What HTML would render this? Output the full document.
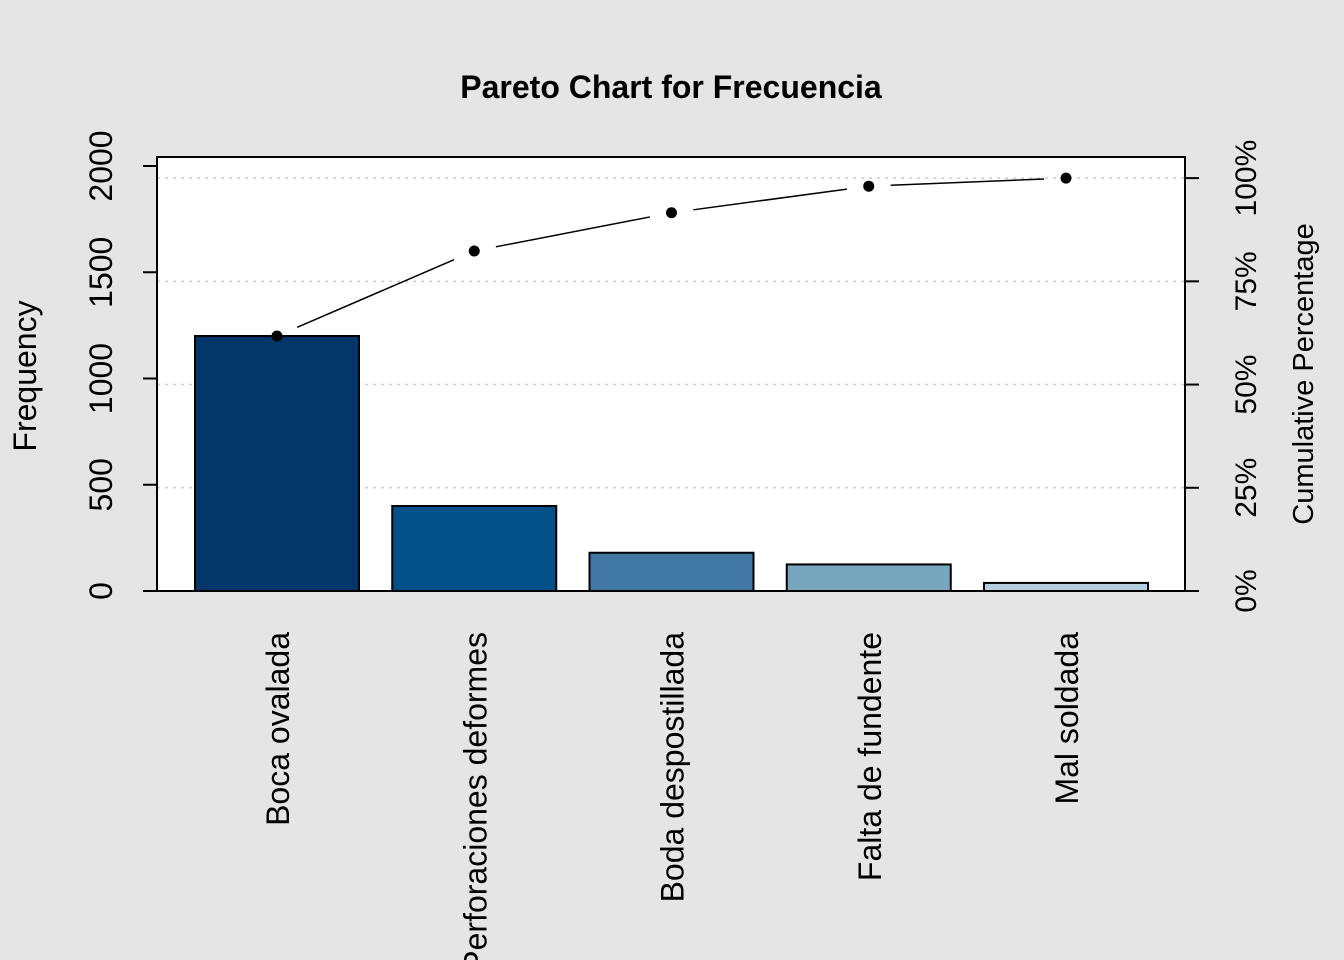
<!DOCTYPE html>
<html><head><meta charset="utf-8"><style>
html,body{margin:0;padding:0;background:#e5e5e5;}
svg{display:block;font-family:"Liberation Sans",Arial,sans-serif;}
</style></head><body>
<svg id="chart" width="1344" height="960" viewBox="0 0 1344 960">
<rect x="0" y="0" width="1344" height="960" fill="#e5e5e5"/>
<rect x="157" y="157" width="1028" height="434" fill="#ffffff"/>
<g id="grid"></g><g id="bars"></g>
<rect x="157" y="157" width="1028" height="434" fill="none" stroke="#000" stroke-width="2"/>
<g id="axes"></g><g id="line"></g>
<text x="671" y="98" text-anchor="middle" font-size="32" font-weight="bold">Pareto Chart for Frecuencia</text>
<text transform="translate(36,376) rotate(-90)" text-anchor="middle" font-size="32">Frequency</text>
<text transform="translate(1313,374) rotate(-90)" text-anchor="middle" font-size="29">Cumulative Percentage</text>
</svg>
<script>
const categories=["Boca ovalada","Perforaciones deformes","Boda despostillada","Falta de fundente","Mal soldada"];
const values=[1200,400,180,125,38];
const colors=["#03376A","#03508A","#4178A6","#78A6BE","#B2CDE0"];
const yTicks=[0,500,1000,1500,2000];
const pctTicks=[0,25,50,75,100];
const NS="http://www.w3.org/2000/svg";
const total=values.reduce((a,b)=>a+b,0);
const y0=591, pxPer=425/2000;
const yScale=v=>y0-v*pxPer;
const pScale=p=>yScale(total*p/100);
const xStep=197.25, xStart=277, bw=164;
const xScale=i=>xStart+i*xStep;
function mk(tag,attrs,parent,text){const e=document.createElementNS(NS,tag);for(const k in attrs)e.setAttribute(k,attrs[k]);if(text!==undefined)e.textContent=text;document.getElementById(parent).appendChild(e);return e;}
pctTicks.forEach(p=>{if(p===0)return;const y=pScale(p);
 const g=mk('line',{x1:157,x2:1185,y1:y,y2:y,stroke:'#cccccc','stroke-width':1.5,'stroke-dasharray':'3,5'},'grid');
 
 });
values.forEach((v,i)=>{const x=xScale(i);
 const r=mk('rect',{x:x-bw/2,y:yScale(v),width:bw,height:v*pxPer,fill:colors[i],stroke:'#000','stroke-width':2},'bars');
 
 
 const t=mk('text',{transform:`translate(${x+12},632) rotate(-90)`,'text-anchor':'end','font-size':32},'axes',categories[i]);
 
 });
yTicks.forEach(v=>{const y=yScale(v);
 const l=mk('line',{x1:143,x2:157,y1:y,y2:y,stroke:'#000','stroke-width':2},'axes');
 
 
 const t=mk('text',{transform:`translate(112,${y}) rotate(-90)`,'text-anchor':'middle','font-size':32},'axes',String(v));
 
 });
mk('line',{x1:157,x2:157,y1:yScale(0),y2:yScale(2000),stroke:'#000','stroke-width':2},'axes');
mk('line',{x1:1185,x2:1185,y1:pScale(0),y2:pScale(100),stroke:'#000','stroke-width':2},'axes');
pctTicks.forEach(p=>{const y=pScale(p);
 const l=mk('line',{x1:1185,x2:1199,y1:y,y2:y,stroke:'#000','stroke-width':2},'axes');
 
 
 const t=mk('text',{transform:`translate(1256,${y}) rotate(-90)`,'text-anchor':'middle','font-size':30},'axes',p+'%');
 
 });
let cum=0;const pts=values.map((v,i)=>{cum+=v;return [xScale(i),pScale(cum/total*100)];});
for(let i=0;i<pts.length-1;i++){const [x1,y1]=pts[i],[x2,y2]=pts[i+1];const dx=x2-x1,dy=y2-y1,L=Math.hypot(dx,dy),g=22;
 const s=mk('line',{x1:x1+dx/L*g,y1:y1+dy/L*g,x2:x2-dx/L*g,y2:y2-dy/L*g,stroke:'#000','stroke-width':1.5},'line');
 
 }
pts.forEach(p=>{const c=mk('circle',{cx:p[0],cy:p[1],r:5.5,fill:'#000'},'line');
 
 });
</script>
</body></html>
